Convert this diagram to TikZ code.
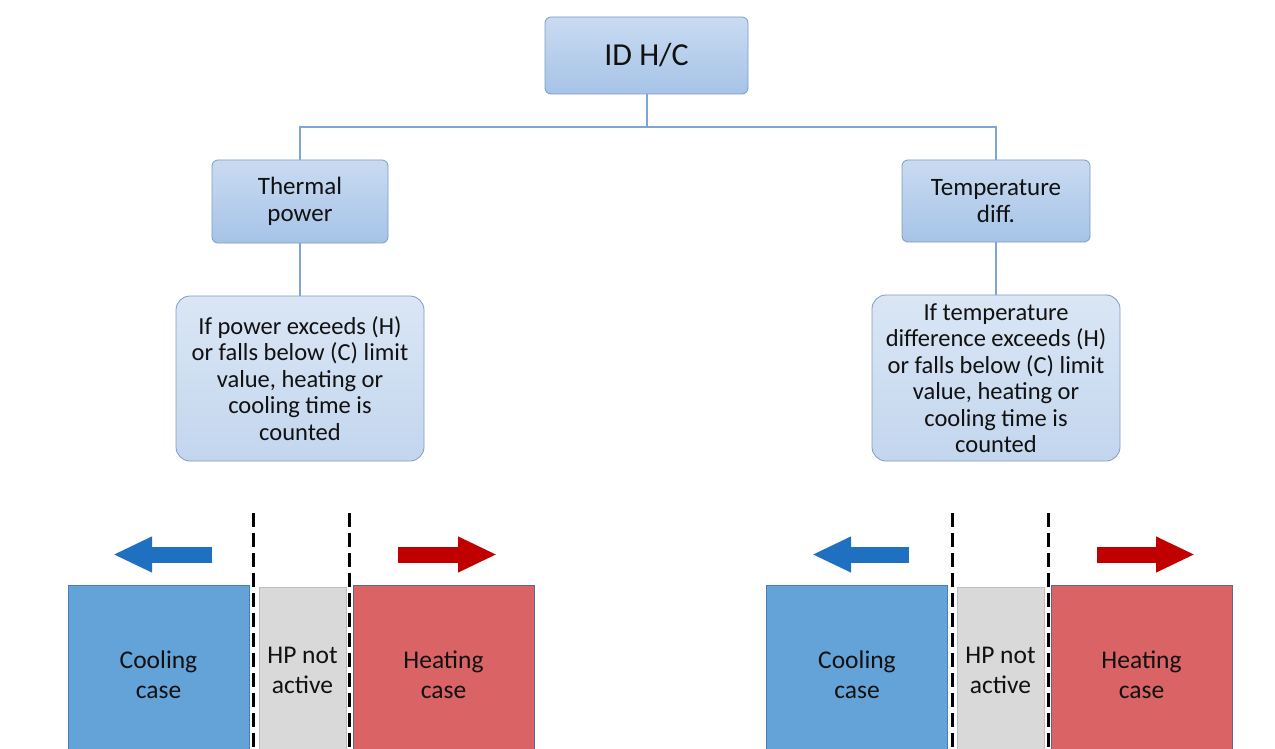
\documentclass[tikz,border=0pt]{standalone}
\usepackage{fontspec}
\setmainfont{Carlito}
\usetikzlibrary{arrows.meta}
\definecolor{boxtop}{HTML}{C9DBF1}
\definecolor{boxbot}{HTML}{A6C3E7}
\definecolor{boxline}{HTML}{7D9CC2}
\definecolor{tboxtop}{HTML}{DAE6F5}
\definecolor{tboxbot}{HTML}{C3D6EE}
\definecolor{connline}{HTML}{7EA6D4}
\definecolor{coolfill}{HTML}{64A3D8}
\definecolor{coolline}{HTML}{4A7EBB}
\definecolor{heatfill}{HTML}{DA6465}
\definecolor{heatline}{HTML}{5468A8}
\definecolor{grayfill}{HTML}{D9D9D9}
\definecolor{grayline}{HTML}{BDBDBD}
\definecolor{bluearrow}{HTML}{1F70C1}
\definecolor{redarrow}{HTML}{C00000}
\definecolor{txt}{HTML}{111111}
\tikzset{
  topbox/.style={draw=boxline, line width=0.8pt, rounded corners=6pt, top color=boxtop, bottom color=boxbot, inner sep=0pt, align=center, text=txt},
  textbox/.style={draw=boxline, line width=0.8pt, rounded corners=14pt, top color=tboxtop, bottom color=tboxbot, inner sep=0pt, align=center, text=txt, font=\fontsize{24.5}{26.5}\selectfont},
  conn/.style={draw=connline, line width=2pt},
  casebox/.style={line width=1pt, inner sep=0pt, align=center, text=txt, font=\fontsize{25.5}{30}\selectfont},
  coolbox/.style={casebox, draw=coolline, fill=coolfill, minimum width=181pt, minimum height=180pt},
  heatbox/.style={casebox, draw=heatline, fill=heatfill, minimum width=181pt, minimum height=180pt},
  offbox/.style={casebox, draw=grayline, fill=grayfill, minimum width=87pt, minimum height=166pt},
  divider/.style={draw=black, line width=3pt, dash pattern=on 14pt off 6pt},
  coolarrow/.style={draw=bluearrow, line width=16pt, -{Triangle[length=39pt,width=33pt]}},
  heatarrow/.style={draw=redarrow, line width=16pt, -{Triangle[length=39pt,width=33pt]}},
}
\begin{document}
\begin{tikzpicture}[x=1pt,y=-1pt]
\useasboundingbox (0,0) rectangle (1275,749);
\clip (0,0) rectangle (1275,749);
\fill[white] (0,0) rectangle (1275,749);

% top tree
\node[topbox, minimum width=203pt, minimum height=77pt, font=\fontsize{32}{36}\selectfont] (root) at (646.5,55.5) {ID H/C};
\node[topbox, minimum width=176pt, minimum height=83pt, font=\fontsize{25}{27}\selectfont] (thermal) at (300,201.5) {Thermal\\power};
\node[topbox, minimum width=188pt, minimum height=82pt, font=\fontsize{25}{27}\selectfont] (tempd) at (996,201) {Temperature\\diff.};
\node[textbox, minimum width=248pt, minimum height=165pt] (rule1) at (300,378.5) {If power exceeds (H)\\or falls below (C) limit\\value, heating or\\cooling time is\\counted};
\node[textbox, minimum width=248pt, minimum height=166pt] (rule2) at (996,378) {If temperature\\difference exceeds (H)\\or falls below (C) limit\\value, heating or\\cooling time is\\counted};

\coordinate (bus) at (646.5,127);
\draw[conn] (root.south) -- (bus);
\draw[conn] (thermal.north) |- (bus) -| (tempd.north);
\draw[conn] (thermal.south) -- (rule1.north);
\draw[conn] (tempd.south) -- (rule2.north);

% left bottom group
\node[coolbox] (cool1) at (158.5,675) {Cooling\\case};
\node[offbox] (off1) at (302.5,670) {HP not\\active};
\node[heatbox] (heat1) at (443.5,675) {Heating\\case};
\coordinate (d1a) at (253.5,513); \coordinate (d1b) at (253.5,760);
\coordinate (d2a) at (349.5,513); \coordinate (d2b) at (349.5,760);
\draw[divider] (d1a) -- (d1b);
\draw[divider] (d2a) -- (d2b);
\coordinate (ca1s) at (212,554.5); \coordinate (ca1e) at (113,554.5);
\coordinate (ha1s) at (398,554.5); \coordinate (ha1e) at (497,554.5);
\draw[coolarrow] (ca1s) -- (ca1e);
\draw[heatarrow] (ha1s) -- (ha1e);

% right bottom group
\node[coolbox] (cool2) at (857,675) {Cooling\\case};
\node[offbox] (off2) at (1000.5,670) {HP not\\active};
\node[heatbox] (heat2) at (1141.5,675) {Heating\\case};
\coordinate (d3a) at (952,513); \coordinate (d3b) at (952,760);
\coordinate (d4a) at (1048,513); \coordinate (d4b) at (1048,760);
\draw[divider] (d3a) -- (d3b);
\draw[divider] (d4a) -- (d4b);
\coordinate (ca2s) at (909,554.5); \coordinate (ca2e) at (812,554.5);
\coordinate (ha2s) at (1097,554.5); \coordinate (ha2e) at (1195,554.5);
\draw[coolarrow] (ca2s) -- (ca2e);
\draw[heatarrow] (ha2s) -- (ha2e);
\end{tikzpicture}
\end{document}
